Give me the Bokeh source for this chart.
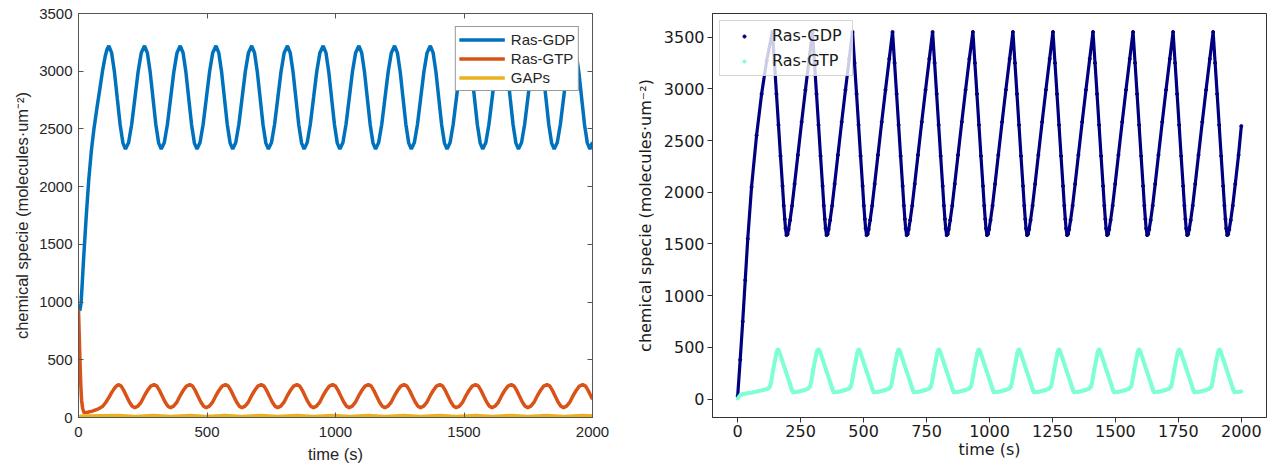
from bokeh.plotting import figure
from bokeh.models import Range1d, LinearAxis, FixedTicker, Legend, LegendItem
from bokeh.layouts import row
from bokeh.embed import file_html
from bokeh.resources import INLINE

# ---------------- LEFT PANEL DATA (MATLAB-style) ----------------
X_TICKS_L = [0, 500, 1000, 1500, 2000]
Y_TICKS_L = [0, 500, 1000, 1500, 2000, 2500, 3000, 3500]

t_gdp_l = [0, 5, 10, 15, 20, 30, 40, 50, 60, 73, 84, 94, 104, 111, 118,
           129, 140, 151, 162, 173, 183, 195, 207, 220, 232, 244, 257,
           268, 279, 290, 301, 312, 322, 334, 346, 359, 371, 383, 396,
           407, 418, 429, 440, 451, 461, 473, 485, 498, 510, 522, 535,
           546, 557, 568, 579, 590, 600, 612, 624, 637, 649, 661, 674,
           685, 696, 707, 718, 729, 739, 751, 763, 776, 788, 800, 813,
           824, 835, 846, 857, 868, 878, 890, 902, 915, 927, 939, 952,
           963, 974, 985, 996, 1007, 1017, 1029, 1041, 1054, 1066, 1078, 1091,
           1102, 1113, 1124, 1135, 1146, 1156, 1168, 1180, 1193, 1205, 1217, 1230,
           1241, 1252, 1263, 1274, 1285, 1295, 1307, 1319, 1332, 1344, 1356, 1369,
           1380, 1391, 1402, 1413, 1424, 1434, 1446, 1458, 1471, 1483, 1495, 1508,
           1519, 1530, 1541, 1552, 1563, 1573, 1585, 1597, 1610, 1622, 1634, 1647,
           1658, 1669, 1680, 1691, 1702, 1712, 1724, 1736, 1749, 1761, 1773, 1786,
           1797, 1808, 1819, 1830, 1841, 1851, 1863, 1875, 1888, 1900, 1912, 1925,
           1936, 1947, 1958, 1969, 1980, 1990, 2000]
ras_gdp_l = [965, 925, 990, 1180, 1380, 1740, 2060, 2310, 2500, 2700, 2860, 3010, 3130, 3190, 3220,
             3158, 2990, 2762, 2536, 2377, 2325, 2382, 2540, 2776, 2995, 3157, 3220,
             3158, 2990, 2762, 2536, 2377, 2325, 2382, 2540, 2776, 2995, 3157, 3220,
             3158, 2990, 2762, 2536, 2377, 2325, 2382, 2540, 2776, 2995, 3157, 3220,
             3158, 2990, 2762, 2536, 2377, 2325, 2382, 2540, 2776, 2995, 3157, 3220,
             3158, 2990, 2762, 2536, 2377, 2325, 2382, 2540, 2776, 2995, 3157, 3220,
             3158, 2990, 2762, 2536, 2377, 2325, 2382, 2540, 2776, 2995, 3157, 3220,
             3158, 2990, 2762, 2536, 2377, 2325, 2382, 2540, 2776, 2995, 3157, 3220,
             3158, 2990, 2762, 2536, 2377, 2325, 2382, 2540, 2776, 2995, 3157, 3220,
             3158, 2990, 2762, 2536, 2377, 2325, 2382, 2540, 2776, 2995, 3157, 3220,
             3158, 2990, 2762, 2536, 2377, 2325, 2382, 2540, 2776, 2995, 3157, 3220,
             3158, 2990, 2762, 2536, 2377, 2325, 2382, 2540, 2776, 2995, 3157, 3220,
             3158, 2990, 2762, 2536, 2377, 2325, 2382, 2540, 2776, 2995, 3157, 3220,
             3158, 2990, 2762, 2536, 2377, 2325, 2382, 2540, 2776, 2995, 3157, 3220,
             3158, 2990, 2762, 2536, 2377, 2325, 2385]

t_gtp_l = [0, 3, 6, 9, 12, 16, 22, 35, 54, 75, 93, 106, 119, 130, 139, 147, 155,
           166, 176, 187, 198, 209, 219, 231, 244, 256, 269, 281, 294,
           305, 315, 326, 337, 348, 358, 370, 383, 395, 408, 420, 433,
           444, 454, 465, 476, 487, 497, 509, 522, 534, 547, 559, 572,
           583, 593, 604, 615, 626, 636, 648, 661, 673, 686, 698, 711,
           722, 732, 743, 754, 765, 775, 787, 800, 812, 825, 837, 850,
           861, 871, 882, 893, 904, 914, 926, 939, 951, 964, 976, 989,
           1000, 1010, 1021, 1032, 1043, 1053, 1065, 1078, 1090, 1103, 1115, 1128,
           1139, 1149, 1160, 1171, 1182, 1192, 1204, 1217, 1229, 1242, 1254, 1267,
           1278, 1288, 1299, 1310, 1321, 1331, 1343, 1356, 1368, 1381, 1393, 1406,
           1417, 1427, 1438, 1449, 1460, 1470, 1482, 1495, 1507, 1520, 1532, 1545,
           1556, 1566, 1577, 1588, 1599, 1609, 1621, 1634, 1646, 1659, 1671, 1684,
           1695, 1705, 1716, 1727, 1738, 1748, 1760, 1773, 1785, 1798, 1810, 1823,
           1834, 1844, 1855, 1866, 1877, 1887, 1899, 1912, 1924, 1937, 1949, 1962,
           1973, 1983, 1994, 2000]
ras_gtp_l = [935, 700, 470, 280, 150, 80, 40, 45, 55, 72, 95, 130, 176, 220, 250, 272, 285,
             272, 235, 185, 135, 98, 85, 98, 134, 187, 236, 272, 285,
             272, 235, 185, 135, 98, 85, 98, 134, 187, 236, 272, 285,
             272, 235, 185, 135, 98, 85, 98, 134, 187, 236, 272, 285,
             272, 235, 185, 135, 98, 85, 98, 134, 187, 236, 272, 285,
             272, 235, 185, 135, 98, 85, 98, 134, 187, 236, 272, 285,
             272, 235, 185, 135, 98, 85, 98, 134, 187, 236, 272, 285,
             272, 235, 185, 135, 98, 85, 98, 134, 187, 236, 272, 285,
             272, 235, 185, 135, 98, 85, 98, 134, 187, 236, 272, 285,
             272, 235, 185, 135, 98, 85, 98, 134, 187, 236, 272, 285,
             272, 235, 185, 135, 98, 85, 98, 134, 187, 236, 272, 285,
             272, 235, 185, 135, 98, 85, 98, 134, 187, 236, 272, 285,
             272, 235, 185, 135, 98, 85, 98, 134, 187, 236, 272, 285,
             272, 235, 185, 135, 98, 85, 98, 134, 187, 236, 272, 285,
             272, 235, 185, 158]

t_gaps_l = [0, 8, 20, 155, 219, 294, 358, 433, 497, 572, 636, 711, 775, 850, 914,
            989, 1053, 1128, 1192, 1267, 1331, 1406, 1470, 1545, 1609, 1684, 1748,
            1823, 1887, 1962, 2000]
gaps_l = [2, 10, 14, 18, 9, 18, 9, 18, 9, 18, 9, 18, 9, 18, 9,
          18, 9, 18, 9, 18, 9, 18, 9, 18, 9, 18, 9,
          18, 9, 18, 14]

# ---------------- RIGHT PANEL DATA (matplotlib-style) ----------------
X_TICKS_R = [0, 250, 500, 750, 1000, 1250, 1500, 1750, 2000]
Y_TICKS_R = [0, 500, 1000, 1500, 2000, 2500, 3000, 3500]

t_gdp_r = [0, 10, 20, 30, 40, 55, 75, 95, 115,
           138, 146, 154, 162, 170, 178, 183, 187, 190, 194, 198, 202, 208, 216, 226, 239, 254, 269, 284,
           297, 305, 313, 321, 329, 337, 342, 346, 349, 353, 357, 361, 367, 375, 385, 398, 413, 428, 443,
           456, 464, 472, 480, 488, 496, 501, 505, 508, 512, 516, 520, 526, 534, 544, 557, 572, 587, 602,
           615, 623, 631, 639, 647, 655, 660, 664, 667, 671, 675, 679, 685, 693, 703, 716, 731, 746, 761,
           774, 782, 790, 798, 806, 814, 819, 823, 826, 830, 834, 838, 844, 852, 862, 875, 890, 905, 920,
           934, 942, 950, 958, 966, 974, 979, 983, 986, 990, 994, 998, 1004, 1012, 1022, 1035, 1050, 1065, 1080,
           1093, 1101, 1109, 1117, 1125, 1133, 1138, 1142, 1145, 1149, 1153, 1157, 1163, 1171, 1181, 1194, 1209, 1224, 1239,
           1252, 1260, 1268, 1276, 1284, 1292, 1297, 1301, 1304, 1308, 1312, 1316, 1322, 1330, 1340, 1353, 1368, 1383, 1398,
           1411, 1419, 1427, 1435, 1443, 1451, 1456, 1460, 1463, 1467, 1471, 1475, 1481, 1489, 1499, 1512, 1527, 1542, 1557,
           1570, 1578, 1586, 1594, 1602, 1610, 1615, 1619, 1622, 1626, 1630, 1634, 1640, 1648, 1658, 1671, 1686, 1701, 1716,
           1729, 1737, 1745, 1753, 1761, 1769, 1774, 1778, 1781, 1785, 1789, 1793, 1799, 1807, 1817, 1830, 1845, 1860, 1875,
           1888, 1896, 1904, 1912, 1920, 1928, 1933, 1937, 1940, 1944, 1948, 1952, 1958, 1966, 1976, 1989, 2000]
ras_gdp_r = [30, 380, 750, 1150, 1550, 2050, 2550, 2950, 3270,
             3550, 3250, 2950, 2650, 2350, 2060, 1870, 1740, 1650, 1585, 1595, 1640, 1730, 1870, 2080, 2360, 2680, 2990, 3290,
             3550, 3250, 2950, 2650, 2350, 2060, 1870, 1740, 1650, 1585, 1595, 1640, 1730, 1870, 2080, 2360, 2680, 2990, 3290,
             3550, 3250, 2950, 2650, 2350, 2060, 1870, 1740, 1650, 1585, 1595, 1640, 1730, 1870, 2080, 2360, 2680, 2990, 3290,
             3550, 3250, 2950, 2650, 2350, 2060, 1870, 1740, 1650, 1585, 1595, 1640, 1730, 1870, 2080, 2360, 2680, 2990, 3290,
             3550, 3250, 2950, 2650, 2350, 2060, 1870, 1740, 1650, 1585, 1595, 1640, 1730, 1870, 2080, 2360, 2680, 2990, 3290,
             3550, 3250, 2950, 2650, 2350, 2060, 1870, 1740, 1650, 1585, 1595, 1640, 1730, 1870, 2080, 2360, 2680, 2990, 3290,
             3550, 3250, 2950, 2650, 2350, 2060, 1870, 1740, 1650, 1585, 1595, 1640, 1730, 1870, 2080, 2360, 2680, 2990, 3290,
             3550, 3250, 2950, 2650, 2350, 2060, 1870, 1740, 1650, 1585, 1595, 1640, 1730, 1870, 2080, 2360, 2680, 2990, 3290,
             3550, 3250, 2950, 2650, 2350, 2060, 1870, 1740, 1650, 1585, 1595, 1640, 1730, 1870, 2080, 2360, 2680, 2990, 3290,
             3550, 3250, 2950, 2650, 2350, 2060, 1870, 1740, 1650, 1585, 1595, 1640, 1730, 1870, 2080, 2360, 2680, 2990, 3290,
             3550, 3250, 2950, 2650, 2350, 2060, 1870, 1740, 1650, 1585, 1595, 1640, 1730, 1870, 2080, 2360, 2680, 2990, 3290,
             3550, 3250, 2950, 2650, 2350, 2060, 1870, 1740, 1650, 1585, 1595, 1640, 1730, 1870, 2080, 2360, 2640]

t_gtp_r = [0, 4, 10, 20, 40, 60, 80, 100, 119, 125, 129, 133, 137, 141, 148, 154, 158,
           161, 165, 176, 191, 206, 213, 217, 220, 236, 251, 266, 278, 284, 288, 292, 296, 300, 307, 313, 317,
           323, 327, 338, 353, 368, 375, 379, 382, 398, 413, 428, 440, 446, 450, 454, 458, 462, 469, 475, 479,
           482, 486, 497, 512, 527, 534, 538, 541, 557, 572, 587, 599, 605, 609, 613, 617, 621, 628, 634, 638,
           641, 645, 656, 671, 686, 693, 697, 700, 716, 731, 746, 758, 764, 768, 772, 776, 780, 787, 793, 797,
           800, 804, 815, 830, 845, 852, 856, 859, 875, 890, 905, 917, 923, 927, 931, 935, 939, 946, 952, 956,
           959, 963, 974, 989, 1004, 1011, 1015, 1018, 1034, 1049, 1064, 1076, 1082, 1086, 1090, 1094, 1098, 1105, 1111, 1115,
           1118, 1122, 1133, 1148, 1163, 1170, 1174, 1177, 1193, 1208, 1223, 1235, 1241, 1245, 1249, 1253, 1257, 1264, 1270, 1274,
           1277, 1281, 1292, 1307, 1322, 1329, 1333, 1336, 1352, 1367, 1382, 1394, 1400, 1404, 1408, 1412, 1416, 1423, 1429, 1433,
           1436, 1440, 1451, 1466, 1481, 1488, 1492, 1495, 1511, 1526, 1541, 1553, 1559, 1563, 1567, 1571, 1575, 1582, 1588, 1592,
           1595, 1599, 1610, 1625, 1640, 1647, 1651, 1654, 1670, 1685, 1700, 1712, 1718, 1722, 1726, 1730, 1734, 1741, 1747, 1751,
           1755, 1759, 1770, 1785, 1800, 1807, 1811, 1814, 1830, 1845, 1860, 1872, 1878, 1882, 1886, 1890, 1894, 1901, 1907, 1911,
           1914, 1918, 1929, 1944, 1959, 1966, 1970, 1973, 1989, 2000]
ras_gtp_r = [5, 22, 38, 48, 57, 65, 75, 87, 100, 110, 125, 170, 225, 285, 375, 445, 472,
             480, 458, 378, 268, 160, 105, 78, 65, 70, 78, 88, 100, 110, 125, 170, 225, 285, 375, 445, 472,
             480, 458, 378, 268, 160, 105, 78, 65, 70, 78, 88, 100, 110, 125, 170, 225, 285, 375, 445, 472,
             480, 458, 378, 268, 160, 105, 78, 65, 70, 78, 88, 100, 110, 125, 170, 225, 285, 375, 445, 472,
             480, 458, 378, 268, 160, 105, 78, 65, 70, 78, 88, 100, 110, 125, 170, 225, 285, 375, 445, 472,
             480, 458, 378, 268, 160, 105, 78, 65, 70, 78, 88, 100, 110, 125, 170, 225, 285, 375, 445, 472,
             480, 458, 378, 268, 160, 105, 78, 65, 70, 78, 88, 100, 110, 125, 170, 225, 285, 375, 445, 472,
             480, 458, 378, 268, 160, 105, 78, 65, 70, 78, 88, 100, 110, 125, 170, 225, 285, 375, 445, 472,
             480, 458, 378, 268, 160, 105, 78, 65, 70, 78, 88, 100, 110, 125, 170, 225, 285, 375, 445, 472,
             480, 458, 378, 268, 160, 105, 78, 65, 70, 78, 88, 100, 110, 125, 170, 225, 285, 375, 445, 472,
             480, 458, 378, 268, 160, 105, 78, 65, 70, 78, 88, 100, 110, 125, 170, 225, 285, 375, 445, 472,
             480, 458, 378, 268, 160, 105, 78, 65, 70, 78, 88, 100, 110, 125, 170, 225, 285, 375, 445, 472,
             480, 458, 378, 268, 160, 105, 78, 65, 70, 74]

assert len(t_gdp_l) == len(ras_gdp_l)
assert len(t_gtp_l) == len(ras_gtp_l)
assert len(t_gaps_l) == len(gaps_l)
assert len(t_gdp_r) == len(ras_gdp_r)
assert len(t_gtp_r) == len(ras_gtp_r)

Y_TITLE = "chemical specie (molecules\u00b7um\u207b\u00b2)"
X_TITLE = "time (s)"

# ---------------- LEFT FIGURE ----------------
LF = "Liberation Sans"
LC = "#262626"
p1 = figure(width=632, height=472, x_range=Range1d(0, 2000), y_range=Range1d(0, 3500),
            output_backend="svg", toolbar_location=None,
            min_border_left=78, min_border_right=40, min_border_top=13, min_border_bottom=55)
p1.xgrid.grid_line_color = None
p1.ygrid.grid_line_color = None
p1.outline_line_color = "#555555"
p1.outline_line_width = 1
p1.outline_line_alpha = 1
p1.background_fill_color = "white"
p1.border_fill_color = "white"

for ax, ticks in ((p1.xaxis[0], X_TICKS_L), (p1.yaxis[0], Y_TICKS_L)):
    ax.ticker = FixedTicker(ticks=ticks)
    ax.major_tick_in = 5
    ax.major_tick_out = 0
    ax.minor_tick_line_color = None
    ax.axis_line_color = "#555555"
    ax.major_tick_line_color = "#555555"
    ax.major_label_text_font = LF
    ax.major_label_text_font_size = "15px"
    ax.major_label_text_color = LC
    ax.axis_label_text_font = LF
    ax.axis_label_text_font_size = "16.5px"
    ax.axis_label_text_font_style = "normal"
    ax.axis_label_text_color = LC

p1.xaxis.axis_label = X_TITLE
p1.xaxis.major_label_standoff = 9
p1.xaxis.axis_label_standoff = 5
p1.yaxis.axis_label = Y_TITLE
p1.yaxis.major_label_standoff = 6
p1.yaxis.axis_label_standoff = 5

# tick marks only (no labels) on the top and right sides, as in the reference box
for side, ticks in (("right", Y_TICKS_L), ("above", X_TICKS_L)):
    ax = LinearAxis(ticker=FixedTicker(ticks=ticks),
                    major_label_text_font_size="1px", major_label_text_color=None,
                    major_tick_in=5, major_tick_out=0, major_label_standoff=0,
                    axis_line_color="#555555", major_tick_line_color="#555555",
                    minor_tick_line_color=None)
    p1.add_layout(ax, side)

r_gdp = p1.line(t_gdp_l, ras_gdp_l, line_color="#0072BD", line_width=3.5)
r_gtp = p1.line(t_gtp_l, ras_gtp_l, line_color="#D95319", line_width=3.5)
r_gap = p1.line(t_gaps_l, gaps_l, line_color="#EDB120", line_width=3.5)

leg1 = Legend(items=[LegendItem(label="Ras-GDP", renderers=[r_gdp]),
                     LegendItem(label="Ras-GTP", renderers=[r_gtp]),
                     LegendItem(label="GAPs", renderers=[r_gap])],
              location="top_right", margin=13, padding=3, spacing=0,
              glyph_width=46, glyph_height=19, label_height=19, label_standoff=6,
              label_text_font=LF, label_text_font_size="15px", label_text_color=LC,
              border_line_color="#333333", border_line_width=1,
              background_fill_color="white", background_fill_alpha=1)
p1.add_layout(leg1)

# ---------------- RIGHT FIGURE ----------------
RF = "DejaVu Sans"
RC = "#1a1a1a"
p2 = figure(width=642, height=472, x_range=Range1d(-100, 2100), y_range=Range1d(-178, 3728),
            output_backend="svg", toolbar_location=None,
            min_border_left=75, min_border_right=8, min_border_top=12, min_border_bottom=50)
p2.xgrid.grid_line_color = None
p2.ygrid.grid_line_color = None
p2.outline_line_color = "#333333"
p2.outline_line_width = 1
p2.outline_line_alpha = 1
p2.background_fill_color = "white"
p2.border_fill_color = "white"

for ax, ticks in ((p2.xaxis[0], X_TICKS_R), (p2.yaxis[0], Y_TICKS_R)):
    ax.ticker = FixedTicker(ticks=ticks)
    ax.major_tick_in = 0
    ax.major_tick_out = 5
    ax.minor_tick_line_color = None
    ax.axis_line_color = "#333333"
    ax.major_tick_line_color = "#333333"
    ax.major_label_text_font = RF
    ax.major_label_text_font_size = "16px"
    ax.major_label_text_color = RC
    ax.axis_label_text_font = RF
    ax.axis_label_text_font_size = "16px"
    ax.axis_label_text_font_style = "normal"
    ax.axis_label_text_color = RC

p2.xaxis.axis_label = X_TITLE
p2.xaxis.major_label_standoff = 2
p2.xaxis.axis_label_standoff = 0
p2.yaxis.axis_label = Y_TITLE
p2.yaxis.major_label_standoff = 3
p2.yaxis.axis_label_standoff = 6

p2.line(t_gdp_r, ras_gdp_r, line_color="navy", line_width=3.2)
p2.line(t_gtp_r, ras_gtp_r, line_color="aquamarine", line_width=4)
s_gdp = p2.scatter(t_gdp_r, ras_gdp_r, size=3, color="navy", marker="circle")
s_gtp = p2.scatter(t_gtp_r, ras_gtp_r, size=3, color="aquamarine", marker="circle")

leg2 = Legend(items=[LegendItem(label="Ras-GDP", renderers=[s_gdp]),
                     LegendItem(label="Ras-GTP", renderers=[s_gtp])],
              location="top_left", margin=7, padding=4, spacing=4,
              glyph_width=40, glyph_height=8, label_height=21, label_width=76,
              label_standoff=8,
              label_text_font=RF, label_text_font_size="16px", label_text_color=RC,
              border_line_color="#cccccc", border_line_width=1, border_line_alpha=0.8,
              background_fill_color="white", background_fill_alpha=0.8)
p2.add_layout(leg2)

layout = row(p1, p2)
open("out.html", "w").write(file_html(layout, INLINE))
